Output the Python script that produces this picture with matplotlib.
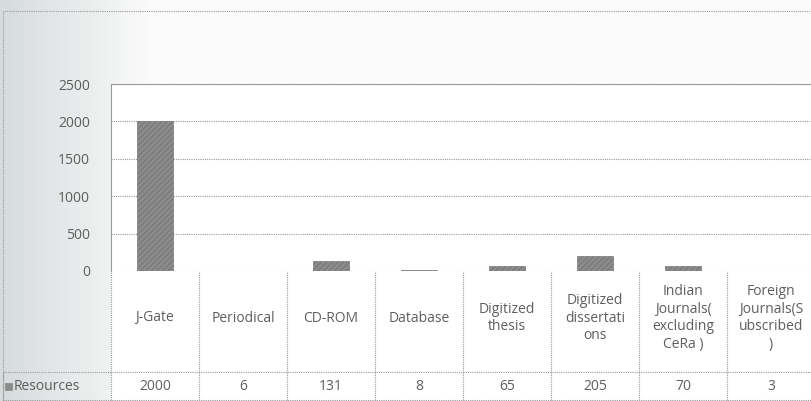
import numpy as np
import matplotlib.pyplot as plt
import matplotlib.transforms as mtransforms
from matplotlib.patches import Rectangle
from matplotlib.colors import LinearSegmentedColormap

# Data
categories = ['J-Gate', 'Periodical', 'CD-ROM', 'Database', 'Digitized\nthesis',
              'Digitized\ndissertati\nons', 'Indian\nJournals(\nexcluding\nCeRa )',
              'Foreign\nJournals(S\nubscribed\n)']
value_labels = ['2000', '6', '131', '8', '65', '205', '70', '3']
resources = [2000, 6, 131, 8, 65, 205, 70, 3]
series_name = 'Resources'
y_ticks = [0, 500, 1000, 1500, 2000, 2500]

W, H = 812, 401
plt.rcParams['font.family'] = ['Open Sans', 'DejaVu Sans']
plt.rcParams['hatch.color'] = '#a0a0a0'
fig = plt.figure(figsize=(W / 100, H / 100), dpi=100, facecolor='white')
txt = '#5e5e5e'
line_c = '#9a9a9a'
fs = 10

# scanned paper shading: grey on the left, fading out
bg = fig.add_axes([0, 0, 1, 1], zorder=-1)
bg.axis('off')
grad = np.clip(np.linspace(0, 1, W) * W / 150, 0, 1)[None, :]
cmap = LinearSegmentedColormap.from_list('paper', ['#d6dbdc', '#e8ebeb', '#fbfbfb'])
bg.imshow(grad, aspect='auto', cmap=cmap, extent=[0, 1, 0, 1])
bg.set_xlim(0, 1)
bg.set_ylim(0, 1)
bg.add_patch(Rectangle((3 / W, 0), 1, 1 - 11 / H, facecolor='none', edgecolor=line_c,
                       lw=0.8, linestyle=(0, (1, 1))))

col_w = 88
left_px, zero_px, top_px = 111, 271, 84
ax = fig.add_axes([left_px / W, 1 - zero_px / H, col_w * 8 / W, (zero_px - top_px) / H])
ax.set_zorder(3)
ax.set_facecolor('white')
x = range(len(categories))
ax.bar(x, resources, width=0.4, color='#8c8c8c', edgecolor='#7a7a7a', lw=0.5,
       hatch='//////', zorder=3)
ax.set_xlim(-0.5, len(categories) - 0.5)
ax.set_ylim(0, 2500)
ax.set_yticks(y_ticks)
ax.set_yticklabels([str(t) for t in y_ticks], fontsize=10, color=txt)
ax.tick_params(axis='y', length=0, pad=15)
ax.set_xticks([])
ax.grid(axis='y', color=line_c, linestyle=(0, (1, 1)), lw=0.8)
for s in ['right', 'bottom']:
    ax.spines[s].set_visible(False)
for s in ['left', 'top']:
    ax.spines[s].set_color(line_c)
    ax.spines[s].set_linestyle((0, (1, 1)))
    ax.spines[s].set_linewidth(0.8)

# data table below the axes
tr = mtransforms.blended_transform_factory(ax.transData, fig.transFigure)
row_top = 1 - zero_px / H
row_mid = 1 - 372 / H
row_bot = 1 - 400 / H
fig.patches.append(Rectangle((left_px / W, row_bot), 1, row_top - row_bot,
                             transform=fig.transFigure, facecolor='white', zorder=0.5))
dot = dict(color=line_c, lw=0.8, linestyle=(0, (1, 1)), zorder=2)
for i in range(len(categories) + 1):
    fig.add_artist(plt.Line2D([i - 0.5, i - 0.5], [row_bot, row_top], transform=tr, **dot))
fig.add_artist(plt.Line2D([3 / W, 1], [row_mid, row_mid], transform=fig.transFigure, **dot))
fig.add_artist(plt.Line2D([3 / W, 1], [row_bot, row_bot], transform=fig.transFigure, **dot))
fig.add_artist(plt.Line2D([3 / W, 3 / W], [row_bot, row_mid], transform=fig.transFigure, **dot))

label_y = 1 - 318 / H
for i, (c, v) in enumerate(zip(categories, value_labels)):
    fig.text(i, label_y, c, transform=tr, ha='center', va='center',
             fontsize=fs, color=txt, linespacing=1.25, zorder=4)
    fig.text(i, (row_mid + row_bot) / 2, v, transform=tr, ha='center', va='center',
             fontsize=fs, color=txt, zorder=4)

fig.patches.append(Rectangle((5 / W, (row_mid + row_bot) / 2 - 3.5 / H), 7 / W, 7 / H,
                             transform=fig.transFigure, facecolor='#8c8c8c',
                             edgecolor='#7a7a7a', lw=0.4, zorder=2))
fig.text(14 / W, (row_mid + row_bot) / 2, series_name, ha='left', va='center',
         fontsize=fs, color=txt, zorder=4)

plt.savefig('out.png', dpi=100, facecolor=fig.get_facecolor())
